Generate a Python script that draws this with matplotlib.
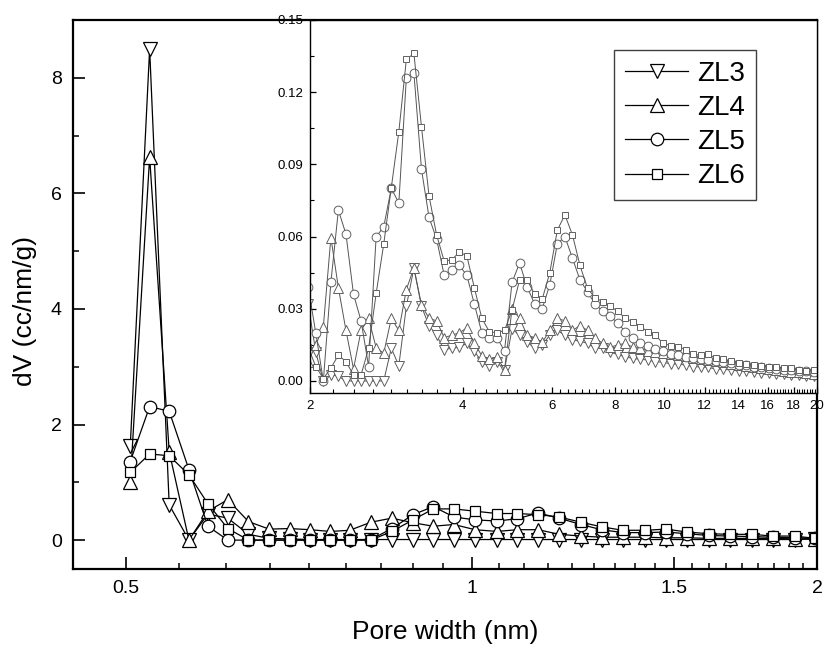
import matplotlib
matplotlib.use('Agg')
import matplotlib.pyplot as plt
from matplotlib.ticker import FixedLocator, NullFormatter

plt.rcParams['font.family'] = ['Liberation Sans', 'DejaVu Sans']

# ---- main plot data (pore width 0.5 - 2 nm) ----
main_x = [0.504, 0.524, 0.545, 0.567, 0.589, 0.613, 0.639, 0.666, 0.694, 0.723,
          0.753, 0.783, 0.817, 0.852, 0.889, 0.926, 0.965, 1.007, 1.052, 1.096,
          1.143, 1.192, 1.245, 1.298, 1.354, 1.416, 1.477, 1.541, 1.610, 1.679,
          1.754, 1.832, 1.913, 1.992]
main_zl3 = [1.62, 8.50, 0.61, 0.00, 0.45, 0.38, 0.10, 0.03, 0.02, 0.01,
            0.01, 0.01, 0.01, 0.01, 0.01, 0.01, 0.01, 0.01, 0.01, 0.01,
            0.01, 0.01, 0.01, 0.01, 0.01, 0.01, 0.01, 0.01, 0.01, 0.01,
            0.01, 0.01, 0.01, 0.02]
main_zl4 = [1.00, 6.63, 1.53, 0.00, 0.50, 0.70, 0.32, 0.19, 0.20, 0.18,
            0.15, 0.17, 0.31, 0.38, 0.30, 0.24, 0.27, 0.18, 0.15, 0.18,
            0.18, 0.10, 0.07, 0.05, 0.05, 0.05, 0.04, 0.04, 0.03, 0.03,
            0.03, 0.03, 0.02, 0.02]
main_zl5 = [1.36, 2.31, 2.23, 1.22, 0.24, 0.00, 0.00, 0.00, 0.00, 0.00,
            0.00, 0.00, 0.01, 0.20, 0.44, 0.58, 0.40, 0.35, 0.33, 0.37,
            0.47, 0.38, 0.27, 0.18, 0.13, 0.13, 0.14, 0.11, 0.08, 0.07,
            0.06, 0.05, 0.04, 0.03]
main_zl6 = [1.17, 1.49, 1.46, 1.13, 0.63, 0.20, 0.00, 0.00, 0.00, 0.00,
            0.00, 0.00, 0.00, 0.15, 0.35, 0.54, 0.54, 0.50, 0.46, 0.46,
            0.44, 0.40, 0.31, 0.23, 0.17, 0.17, 0.19, 0.14, 0.11, 0.10,
            0.10, 0.07, 0.07, 0.03]

# ---- inset data (pore width 2 - 20 nm) ----
ins_x = [1.984, 2.053, 2.125, 2.199, 2.275, 2.355, 2.437, 2.522, 2.610, 2.701,
         2.795, 2.893, 2.994, 3.098, 3.206, 3.318, 3.434, 3.554, 3.678, 3.806,
         3.938, 4.076, 4.218, 4.365, 4.517, 4.675, 4.838, 5.007, 5.181, 5.362,
         5.549, 5.742, 5.943, 6.150, 6.365, 6.587, 6.816, 7.054, 7.300, 7.555,
         7.818, 8.091, 8.373, 8.665, 8.968, 9.280, 9.604, 9.939, 10.286, 10.645,
         11.016, 11.400, 11.798, 12.209, 12.635, 13.076, 13.532, 14.004, 14.492, 14.998,
         15.521, 16.062, 16.623, 17.203, 17.803, 18.424, 19.066, 19.731]
ins_zl3 = [0.032, 0.012, 0.000, 0.0025, 0.002, 0.000, 0.000, 0.000, 0.000, 0.000,
           0.000, 0.0136, 0.0064, 0.031, 0.047, 0.031, 0.023, 0.019, 0.013, 0.0136,
           0.014, 0.0156, 0.0125, 0.0078, 0.0064, 0.0078, 0.0046, 0.0216, 0.019, 0.016,
           0.0138, 0.015, 0.019, 0.021, 0.019, 0.017, 0.0166, 0.0156, 0.0136, 0.0138,
           0.012, 0.011, 0.010, 0.0094, 0.009, 0.0087, 0.008, 0.0078, 0.0071, 0.007,
           0.0066, 0.006, 0.0058, 0.0056, 0.005, 0.0048, 0.0046, 0.0041, 0.004, 0.0036,
           0.0035, 0.0032, 0.003, 0.0029, 0.0026, 0.0025, 0.0022, 0.002]
ins_zl4 = [0.008, 0.015, 0.0226, 0.0596, 0.0388, 0.021, 0.005, 0.021, 0.026, 0.0138,
           0.0115, 0.026, 0.021, 0.038, 0.047, 0.0316, 0.026, 0.025, 0.018, 0.019,
           0.020, 0.022, 0.0156, 0.0105, 0.009, 0.010, 0.0046, 0.030, 0.026, 0.019,
           0.018, 0.016, 0.021, 0.026, 0.025, 0.021, 0.023, 0.021, 0.018, 0.0156,
           0.014, 0.015, 0.0156, 0.014, 0.0136, 0.0125, 0.0121, 0.0118, 0.011, 0.0106,
           0.0102, 0.0095, 0.0091, 0.0088, 0.0082, 0.0078, 0.0071, 0.0065, 0.0061, 0.0058,
           0.0052, 0.0049, 0.0045, 0.0043, 0.0038, 0.0036, 0.0032, 0.003]
ins_zl5 = [0.039, 0.020, 0.000, 0.041, 0.071, 0.061, 0.036, 0.025, 0.006, 0.060,
           0.064, 0.080, 0.074, 0.126, 0.128, 0.088, 0.068, 0.059, 0.044, 0.046,
           0.048, 0.044, 0.032, 0.020, 0.018, 0.018, 0.0125, 0.041, 0.049, 0.039,
           0.032, 0.030, 0.040, 0.057, 0.060, 0.051, 0.042, 0.037, 0.032, 0.029,
           0.027, 0.024, 0.0205, 0.018, 0.0156, 0.0146, 0.0134, 0.0126, 0.0114, 0.0109,
           0.0101, 0.0094, 0.0091, 0.0087, 0.0083, 0.0077, 0.0073, 0.0067, 0.0065, 0.0059,
           0.0057, 0.0052, 0.0051, 0.0047, 0.0046, 0.0041, 0.0040, 0.0037]
ins_zl6 = [0.014, 0.006, 0.001, 0.0053, 0.0108, 0.008, 0.0025, 0.0025, 0.0136, 0.0364,
           0.0568, 0.0803, 0.1036, 0.1336, 0.1361, 0.1057, 0.0769, 0.0607, 0.0499, 0.0503,
           0.0535, 0.0521, 0.0388, 0.026, 0.0205, 0.020, 0.021, 0.0295, 0.042, 0.042,
           0.036, 0.034, 0.045, 0.0627, 0.069, 0.0607, 0.048, 0.0385, 0.0346, 0.033,
           0.031, 0.029, 0.026, 0.0247, 0.0226, 0.0205, 0.019, 0.0156, 0.0147, 0.0143,
           0.013, 0.011, 0.0108, 0.0112, 0.0094, 0.009, 0.0084, 0.0076, 0.007, 0.0066,
           0.0062, 0.006, 0.0057, 0.0055, 0.0053, 0.0046, 0.0043, 0.0046]

labels = ['ZL3', 'ZL4', 'ZL5', 'ZL6']
markers = ['v', '^', 'o', 's']
msizes = [9.5, 9.5, 9.0, 7.5]

W, H = 824, 648
fig = plt.figure(figsize=(W / 100, H / 100), dpi=100)

# main axes
ax = fig.add_axes([73 / W, 1 - 569 / H, 744 / W, 549 / H])
main_series = [main_zl3, main_zl4, main_zl5, main_zl6]
handles = []
for y, m, ms, lab in zip(main_series, markers, msizes, labels):
    h, = ax.plot(main_x, y, color='black', lw=0.9, marker=m, ms=ms,
                 mfc='white', mec='black', mew=0.9, label=lab)
    handles.append(h)

ax.set_xscale('log')
ax.set_xlim(0.4493, 2.0)
ax.set_ylim(-0.5, 9)
major = [0.5, 1.0, 1.5, 2.0]
minor = []
for a in major[:-1]:
    minor += [a + 0.5 * j / 9 for j in range(1, 9)]
ax.xaxis.set_major_locator(FixedLocator(major))
ax.xaxis.set_minor_locator(FixedLocator(minor))
ax.set_xticklabels(['0.5', '1', '1.5', '2'])
ax.xaxis.set_minor_formatter(NullFormatter())
ax.set_yticks([0, 2, 4, 6, 8])
ax.set_yticks([1, 3, 5, 7], minor=True)
ax.tick_params(which='major', direction='in', length=8.6, width=1.2,
               labelsize=14, pad=8, top=False, right=False)
ax.tick_params(which='minor', direction='in', length=4.3, width=1.1,
               top=False, right=False)
for s in ax.spines.values():
    s.set_linewidth(1.6)

ax.set_xlabel('Pore width (nm)', fontsize=19)
ax.xaxis.set_label_coords(0.5, -0.093)
ax.set_ylabel('dV (cc/nm/g)', fontsize=19)
ax.yaxis.set_label_coords(-0.048, 0.47)

# inset axes
axi = fig.add_axes([310 / W, 1 - 393 / H, 507 / W, 373 / H])
axi.set_facecolor('white')
ins_series = [ins_zl3, ins_zl4, ins_zl5, ins_zl6]
ins_ms = [6.5, 6.5, 6.3, 5.0]
for y, m, ms in zip(ins_series, markers, ins_ms):
    axi.plot(ins_x, y, color='#555555', lw=0.7, marker=m, ms=ms,
             mfc='white', mec='#606060', mew=0.7)

axi.set_xscale('log')
axi.set_xlim(2, 20)
axi.set_ylim(-0.005, 0.15)
imajor = list(range(2, 21, 2))
iminor = []
for a in imajor[:-1]:
    iminor += [a + 2 * j / 9 for j in range(1, 9)]
axi.xaxis.set_major_locator(FixedLocator(imajor))
axi.xaxis.set_minor_locator(FixedLocator(iminor))
axi.set_xticklabels([str(v) for v in imajor])
axi.xaxis.set_minor_formatter(NullFormatter())
axi.set_yticks([0, 0.03, 0.06, 0.09, 0.12, 0.15])
axi.set_yticklabels(['0.00', '0.03', '0.06', '0.09', '0.12', '0.15'])
axi.set_yticks([0.015, 0.045, 0.075, 0.105, 0.135], minor=True)
axi.tick_params(which='major', direction='in', length=4.6, width=0.9,
                labelsize=9.5, pad=5, top=False, right=False)
axi.tick_params(which='minor', direction='in', length=2.6, width=0.8,
                top=False, right=False)
for s in axi.spines.values():
    s.set_linewidth(1.0)

leg = axi.legend(handles=handles, loc='upper left',
                 bbox_to_anchor=(614 / W, 1 - 50 / H),
                 bbox_transform=fig.transFigure, borderaxespad=0,
                 fontsize=20, handlelength=2.27, handletextpad=0.32,
                 labelspacing=0.29, borderpad=0.4, fancybox=False,
                 framealpha=1, edgecolor='#404040')
leg.get_frame().set_linewidth(1.0)

fig.savefig('out.png', dpi=100)
